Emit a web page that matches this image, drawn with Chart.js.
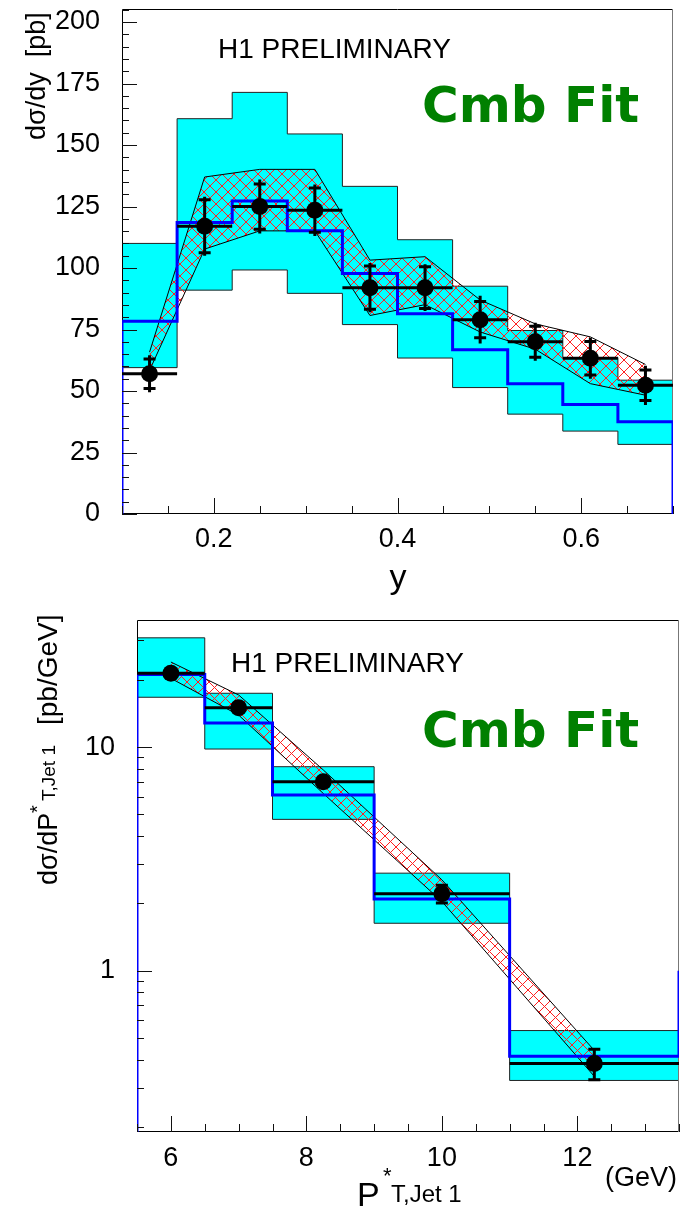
<!DOCTYPE html>
<html><head><meta charset="utf-8"><title>H1 dijet cross sections</title>
<script src="https://cdn.jsdelivr.net/npm/chart.js@4.4.1/dist/chart.umd.min.js"></script>
<style>
html,body{margin:0;padding:0;background:#fff;width:693px;height:1211px;overflow:hidden;}
canvas{position:absolute;left:0;display:block;}
#c1{top:0;} #c2{top:605px;}
</style></head><body>
<canvas id="c1" width="693" height="605"></canvas>
<canvas id="c2" width="693" height="606"></canvas>
<script>
// ---------------- Top panel: d sigma / dy ----------------
const yEdges    = [0.10,0.16,0.22,0.28,0.34,0.40,0.46,0.52,0.58,0.64,0.70];
const yCenters  = [0.13,0.19,0.25,0.31,0.37,0.43,0.49,0.55,0.61,0.67];
const yData     = [57,117,125,123.5,92,92,79,70,63.3,52.3];
const yStat     = [6,10.8,9.2,9,8.8,8.5,7.4,6.3,6.8,6.2];
const yTot      = [7.5,12,11,10.5,10,9.5,9.7,7.7,8.3,8];
const yCyanLow  = [59.5,91,99.2,89.7,77,63.4,51.4,40.6,33.7,28.3];
const yCyanHigh = [110,160.7,171.4,154.5,133.2,111.5,92.6,74.6,63.6,54.4];
const yPred     = [78.4,118.5,127.2,115.1,97.8,81.4,66.8,53,44.5,37.5];
const yPredLeft = 0, yPredRight = 0;
const yBandHigh = [65.8,137,140.1,140.1,103.2,104.6,87,77.3,72,60.8];
const yBandLow  = [58.4,107.7,115.1,115.1,80.7,85.1,74,67,53,48.3];
const yYTickVals   = [0,25,50,75,100,125,150,175,200];
const yYTickLabels = ['0','25','50','75','100','125','150','175','200'];
const yXTickVals   = [0.2,0.4,0.6];
const yXTickLabels = ['0.2','0.4','0.6'];

// ---------------- Bottom panel: d sigma / dPT* ----------------
const pEdges    = [5.5,6.5,7.5,9,11,13.5];
const pCenters  = [6,7,8.25,10,12.25];
const pData     = [21.4,15.0,7.0,2.21,0.385];
const pStat     = [0.8,0.6,0.3,0.2,0.06];
const pTot      = [0.8,0.6,0.3,0.2,0.06];
const pCyanLow  = [16.7,9.8,4.75,1.63,0.323];
const pCyanHigh = [30.8,17.4,8.17,2.73,0.54];
const pPred     = [21.1,12.8,6.1,2.09,0.414];
const pPredLeft = 0.19, pPredRight = 1.0;
const pBandHigh = [24.0,17.1,7.9,2.55,0.44];
const pBandLow  = [20.3,13.9,6.2,2.04,0.337];
const pYTickVals   = [1,10];
const pYTickLabels = ['1','10'];
const pXTickVals   = [6,8,10,12];
const pXTickLabels = ['6','8','10','12'];

// ---------------- Text ----------------
const PRELIM = 'H1 PRELIMINARY';
const FITLBL = 'Cmb Fit';
const TOP_YTITLE = 'dσ/dy  [pb]';
const TOP_XTITLE = 'y';
const BOT_YTITLE = ['dσ/dP', '*', 'T,Jet 1', '[pb/GeV]'];
const BOT_XTITLE = ['P', '*', 'T,Jet 1'];
const BOT_UNIT = '(GeV)';

const FONT = "'Liberation Sans', Arial, sans-serif";
Chart.defaults.font.family = FONT;
Chart.defaults.color = '#000';

function stepPoints(edges, vals){
  const pts = vals.map((v,i)=>({x:edges[i], y:v}));
  pts.push({x:edges[edges.length-1], y:vals[vals.length-1]});
  return pts;
}
function hatchPattern(canvas, s){
  const t = document.createElement('canvas'); t.width = s; t.height = s;
  const g = t.getContext('2d');
  g.fillStyle = '#ff2020';
  for (let i=0;i<s;i++){ g.fillRect(i,i,1,1); g.fillRect(s-1-i,i,1,1); }
  return canvas.getContext('2d').createPattern(t,'repeat');
}

const rootAxes = {
  id:'rootAxes',
  afterDatasetDraw(chart, args, o){
    if (args.index !== o.frameAfter) return;
    const {ctx, chartArea:a} = chart;
    ctx.save(); ctx.lineWidth = 1;
    const L = Math.round(a.left)+0.5, R = Math.round(a.right)-0.5, T = Math.round(a.top)+0.5, B = Math.round(a.bottom)-0.5;
    ctx.strokeStyle = '#000';
    ctx.beginPath(); ctx.moveTo(R,T); ctx.lineTo(L,T); ctx.lineTo(L,B); ctx.lineTo(R,B); ctx.stroke();
    ctx.strokeStyle = '#777';
    ctx.beginPath(); ctx.moveTo(R,T); ctx.lineTo(R,B); ctx.stroke();
    ctx.restore();
  },
  afterDatasetsDraw(chart, args, o){
    const {ctx, chartArea:a, scales:{x,y}} = chart;
    ctx.save(); ctx.strokeStyle = '#111'; ctx.lineWidth = 1; ctx.beginPath();
    const yt = (v,len)=>{ const p = Math.round(y.getPixelForValue(v))+0.5; ctx.moveTo(a.left, p); ctx.lineTo(a.left+len, p); };
    const xt = (v,len)=>{ const p = Math.round(x.getPixelForValue(v))+0.5; ctx.moveTo(p, a.bottom); ctx.lineTo(p, a.bottom-len); };
    o.yMinor.forEach(v=>yt(v,7)); o.yMajor.forEach(v=>yt(v,15));
    o.xMinor.forEach(v=>xt(v,8)); o.xMajor.forEach(v=>xt(v,16));
    ctx.stroke(); ctx.restore();
  }
};

const errBars = {
  id:'errBars',
  afterDatasetsDraw(chart, args, o){
    const {ctx, scales:{x,y}} = chart;
    ctx.save(); ctx.strokeStyle = '#000'; ctx.lineWidth = 3; ctx.lineCap = 'butt';
    o.vals.forEach((v,i)=>{
      const px = x.getPixelForValue(o.centers[i]), py = y.getPixelForValue(v);
      const xl = x.getPixelForValue(o.edges[i]), xr = x.getPixelForValue(o.edges[i+1]);
      ctx.beginPath();
      ctx.moveTo(xl,py); ctx.lineTo(xr,py);
      ctx.moveTo(px, y.getPixelForValue(v+o.tot[i])); ctx.lineTo(px, y.getPixelForValue(v-o.tot[i]));
      const s1 = y.getPixelForValue(v+o.stat[i]), s2 = y.getPixelForValue(v-o.stat[i]);
      ctx.moveTo(px-6,s1); ctx.lineTo(px+6,s1); ctx.moveTo(px-6,s2); ctx.lineTo(px+6,s2);
      ctx.stroke();
    });
    ctx.restore();
  }
};

const texts = {
  id:'texts',
  afterDraw(chart, args, o){
    const ctx = chart.ctx;
    o.items.forEach(it=>{
      ctx.save(); ctx.font = it.font; ctx.fillStyle = it.color || '#000';
      ctx.textAlign = it.align || 'left'; ctx.textBaseline = 'alphabetic';
      ctx.translate(it.x, it.y); if (it.rot) ctx.rotate(-Math.PI/2);
      ctx.fillText(it.t, 0, 0); ctx.restore();
    });
  }
};

function makeChart(id, c){
  const canvas = document.getElementById(id);
  const pat = hatchPattern(canvas, c.hatch);
  const pts = (xs, ys)=>xs.map((v,i)=>({x:v, y:ys[i]}));
  return new Chart(canvas, {
    type:'line',
    data:{datasets:[
      {data:stepPoints(c.edges,c.cyanHigh), stepped:true, borderColor:'#222', borderWidth:1, pointRadius:0, fill:'+1', backgroundColor:'#00ffff', order:10},
      {data:stepPoints(c.edges,c.cyanLow), stepped:true, borderColor:'#222', borderWidth:1, pointRadius:0, fill:false, order:9},
      {data:pts(c.centers,c.bandHigh), borderColor:'#000', borderWidth:1, pointRadius:0, fill:'+1', backgroundColor:pat, order:8},
      {data:pts(c.centers,c.bandLow), borderColor:'#000', borderWidth:1, pointRadius:0, fill:false, order:7},
      {data:[{x:c.edges[0],y:c.predLeft}, ...stepPoints(c.edges,c.pred), {x:c.edges[c.edges.length-1],y:c.predRight}],
       stepped:true, borderColor:'#0000ff', borderWidth:3, pointRadius:0, fill:false, order:6},
      {data:pts(c.centers,c.vals), showLine:false, pointRadius:8.5, pointBackgroundColor:'#000', pointBorderWidth:0, borderColor:'#000', order:5}
    ]},
    plugins:[rootAxes, errBars, texts],
    options:{
      responsive:false, animation:false, events:[],
      layout:{padding:c.padding},
      plugins:{
        legend:{display:false}, tooltip:{enabled:false},
        rootAxes:{frameAfter:1, yMajor:c.yMajor, yMinor:c.yMinor, xMajor:c.xMajor, xMinor:c.xMinor},
        errBars:{centers:c.centers, edges:c.edges, vals:c.vals, stat:c.stat, tot:c.tot},
        texts:{items:c.texts}
      },
      scales:{
        x:{type:'linear', min:c.xMin, max:c.xMax,
           grid:{display:false, drawTicks:false}, border:{display:false},
           afterBuildTicks:s=>{ s.ticks = c.xTickVals.map(v=>({value:v})); },
           afterFit:s=>{ s.height = c.xAxisHeight; s.paddingLeft = 0; s.paddingRight = 0; },
           ticks:{autoSkip:false, maxRotation:0, minRotation:0, padding:c.xPad, color:'#000', font:{size:27, family:FONT},
                  callback:(v,i)=>c.xTickLabels[i]}},
        y:{type:c.yType, min:c.yMin, max:c.yMax,
           grid:{display:false, drawTicks:false}, border:{display:false},
           afterBuildTicks:s=>{ s.ticks = c.yTickVals.map(v=>({value:v})); },
           afterFit:s=>{ s.width = c.yAxisWidth; s.paddingTop = 0; s.paddingBottom = 0; },
           ticks:{autoSkip:false, padding:22, color:'#000', font:{size:27, family:FONT},
                  callback:(v,i)=>c.yTickLabels[i]}}
      }
    }
  });
}

// minor tick positions (axis decoration)
const topYMinor = []; for (let v=0; v<=205; v+=5) topYMinor.push(v);
const topXMinor = []; for (let k=2; k<=14; k++) topXMinor.push(k*0.05);
const botYMinor = []; [0.1,1,10].forEach(d=>{ for (let m=2;m<=9;m++){ const v=m*d; if (v>=0.19 && v<=37) botYMinor.push(v);} });
const botXMinor = []; for (let v=5.5; v<=13.5; v+=0.5) botXMinor.push(v);

makeChart('c1', {
  edges:yEdges, centers:yCenters, vals:yData, stat:yStat, tot:yTot,
  cyanLow:yCyanLow, cyanHigh:yCyanHigh, pred:yPred, predLeft:yPredLeft, predRight:yPredRight,
  bandHigh:yBandHigh, bandLow:yBandLow, hatch:12,
  xMin:0.1, xMax:0.7, yType:'linear', yMin:0, yMax:205.5,
  xTickVals:yXTickVals, xTickLabels:yXTickLabels, yTickVals:yYTickVals, yTickLabels:yYTickLabels,
  padding:{left:0, right:20, top:6, bottom:0}, xAxisHeight:91, yAxisWidth:122, xPad:9,
  yMajor:yYTickVals, yMinor:topYMinor, xMajor:yXTickVals, xMinor:topXMinor,
  texts:[
    {t:PRELIM, x:218, y:58, font:"28px "+FONT},
    {t:FITLBL, x:422, y:122, font:"bold 50px 'DejaVu Sans', sans-serif", color:'#008000'},
    {t:TOP_XTITLE, x:398, y:588, font:"34px "+FONT, align:'center'},
    {t:TOP_YTITLE, x:45, y:140, font:"27px "+FONT, rot:true}
  ]
});

makeChart('c2', {
  edges:pEdges, centers:pCenters, vals:pData, stat:pStat, tot:pTot,
  cyanLow:pCyanLow, cyanHigh:pCyanHigh, pred:pPred, predLeft:pPredLeft, predRight:pPredRight,
  bandHigh:pBandHigh, bandLow:pBandLow, hatch:11,
  xMin:5.5, xMax:13.5, yType:'logarithmic', yMin:0.19, yMax:37,
  xTickVals:pXTickVals, xTickLabels:pXTickLabels, yTickVals:pYTickVals, yTickLabels:pYTickLabels,
  padding:{left:0, right:14, top:15, bottom:0}, xAxisHeight:79, yAxisWidth:137, xPad:10,
  yMajor:pYTickVals, yMinor:botYMinor, xMajor:pXTickVals, xMinor:botXMinor,
  texts:[
    {t:PRELIM, x:231, y:67, font:"28px "+FONT},
    {t:FITLBL, x:422, y:142, font:"bold 50px 'DejaVu Sans', sans-serif", color:'#008000'},
    {t:BOT_UNIT, x:605, y:581, font:"27px "+FONT},
    {t:BOT_XTITLE[0], x:357, y:601, font:"34px "+FONT},
    {t:BOT_XTITLE[1], x:383, y:578, font:"22px "+FONT},
    {t:BOT_XTITLE[2], x:391, y:597, font:"24px "+FONT},
    {t:BOT_YTITLE[0], x:57, y:280, font:"27px "+FONT, rot:true},
    {t:BOT_YTITLE[1], x:44, y:208, font:"20px "+FONT, rot:true},
    {t:BOT_YTITLE[2], x:55, y:196, font:"19px "+FONT, rot:true},
    {t:BOT_YTITLE[3], x:57, y:120, font:"28px "+FONT, rot:true}
  ]
});
</script></body></html>
